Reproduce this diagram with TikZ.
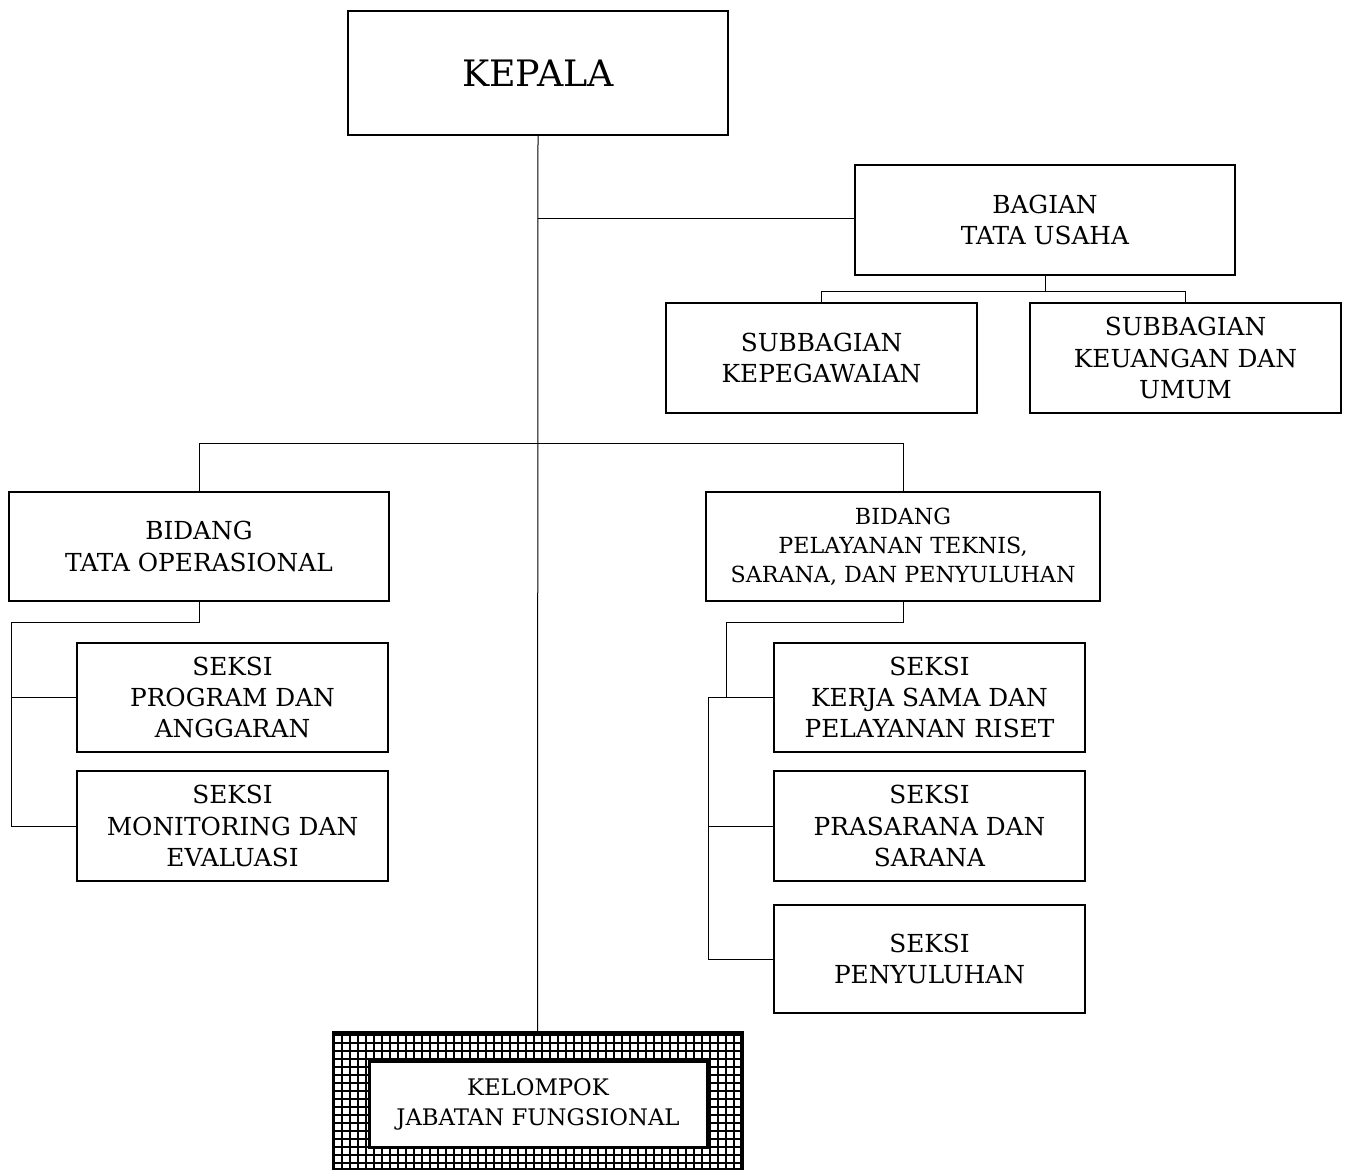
\documentclass[tikz,border=0pt]{standalone}
\usepackage{fontspec}
\setmainfont{DejaVu Serif}
\begin{document}
\begin{tikzpicture}[x=0.5pt,y=-0.5pt,
  box/.style={draw=black,line width=1pt,fill=white,align=center,inner sep=0pt,
    font=\fontsize{12.4}{15.6}\selectfont},
  conn/.style={draw=black,line width=0.5pt}]
\useasboundingbox (0,0) rectangle (1345,1169);
% nodes
\node[box,minimum width=190pt,minimum height=62pt,font=\fontsize{18.2}{20}\selectfont] (kepala) at (538,73) {KEPALA};
\node[box,minimum width=190pt,minimum height=55pt] (bagian) at (1045,220) {BAGIAN\\TATA USAHA};
\node[box,minimum width=155.5pt,minimum height=55pt] (sub1) at (821.5,358) {SUBBAGIAN\\KEPEGAWAIAN};
\node[box,minimum width=155.5pt,minimum height=55pt] (sub2) at (1185.5,358) {SUBBAGIAN\\KEUANGAN DAN\\UMUM};
\node[box,minimum width=190pt,minimum height=54.5pt] (bid1) at (199,546.5) {BIDANG\\TATA OPERASIONAL};
\node[box,minimum width=197pt,minimum height=54.5pt,font=\fontsize{11.1}{14.5}\selectfont] (bid2) at (903,546.5) {BIDANG\\PELAYANAN TEKNIS,\\SARANA, DAN PENYULUHAN};
\node[box,minimum width=155.5pt,minimum height=54.5pt] (sk1) at (232.5,697.5) {SEKSI\\PROGRAM DAN\\ANGGARAN};
\node[box,minimum width=155.5pt,minimum height=55pt] (sk2) at (232.5,826) {SEKSI\\MONITORING DAN\\EVALUASI};
\node[box,minimum width=155.5pt,minimum height=54.5pt] (sk3) at (929.5,697.5) {SEKSI\\KERJA SAMA DAN\\PELAYANAN RISET};
\node[box,minimum width=155.5pt,minimum height=55pt] (sk4) at (929.5,826) {SEKSI\\PRASARANA DAN\\SARANA};
\node[box,minimum width=155.5pt,minimum height=54pt] (sk5) at (929.5,959) {SEKSI\\PENYULUHAN};
% kelompok hatched frame
\node[draw=black,line width=1pt,minimum width=203.5pt,minimum height=68pt,inner sep=0pt] (kelout) at (537.5,1101) {};
\begin{scope}
\clip (kelout.north west) rectangle (kelout.south east);
\foreach \i in {0,...,52} {\draw[line width=1pt] (334+8*\i,1033) -- (334+8*\i,1169);}
\foreach \j in {0,...,18} {\draw[line width=1pt] (334,1035+8*\j) -- (741,1035+8*\j);}
\end{scope}
\draw[line width=1.5pt] (kelout.north west) rectangle (kelout.south east);
\node[box,line width=1.5pt,minimum width=169pt,minimum height=43pt,font=\fontsize{11.4}{15}\selectfont] (kel) at (538,1104) {KELOMPOK\\JABATAN FUNGSIONAL};
% connectors
\coordinate (jTU) at (538,218);
\coordinate (jBid) at (538,443);
\draw[conn] (kepala.south) -- (kelout.north);
\draw[conn] (jTU) -- (bagian.west |- jTU);
\draw[conn] (bagian.south) -- ++(0,15) coordinate (bs);
\draw[conn] (sub1.north) |- (bs) -| (sub2.north);
\draw[conn] (bid1.north) |- (jBid) -| (bid2.north);
% left group
\coordinate (lx) at (11,622);
\draw[conn] (bid1.south) |- (lx) |- (sk2.west);
\draw[conn] (sk1.west) -- (sk1.west -| lx);
% right group
\coordinate (r1) at (726,622);
\coordinate (r2) at (708,697.5);
\draw[conn] (bid2.south) |- (r1) -- (r1 |- sk3.west);
\draw[conn] (sk3.west) -- (r2) |- (sk5.west);
\draw[conn] (sk4.west) -- (sk4.west -| r2);
\end{tikzpicture}
\end{document}
